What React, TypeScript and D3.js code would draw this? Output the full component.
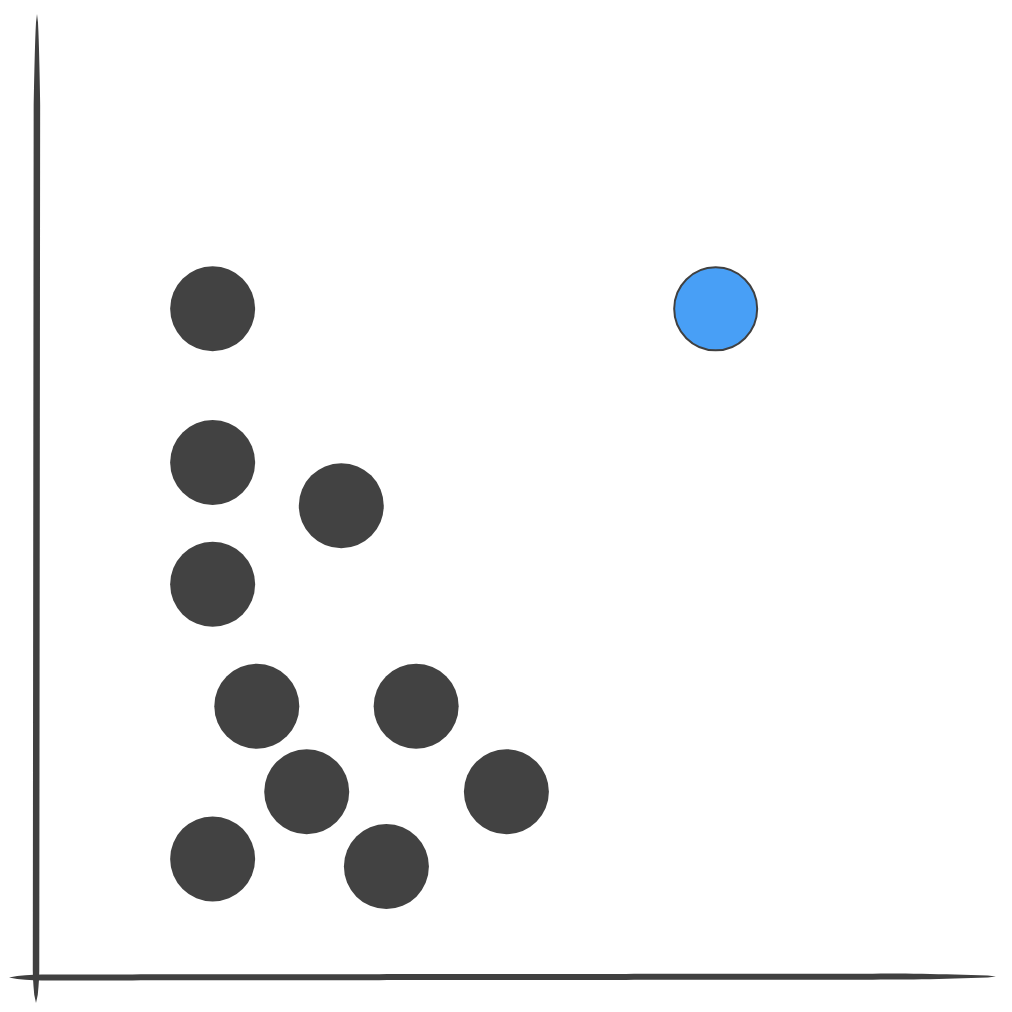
import * as d3 from "d3";

// point data (abstract units, origin at the axis corner)
const xs = [1.84, 7.08, 1.84, 3.18, 1.84, 2.3, 3.96, 2.82, 4.9, 1.84, 3.65];
const ys = [6.96, 6.96, 5.36, 4.91, 4.09, 2.82, 2.82, 1.93, 1.93, 1.23, 1.15];
const highlighted = [false, true, false, false, false, false, false, false, false, false, false];

const W = 1012;
const H = 1012;

// filled sketch stroke, pointed at both ends
function taper(x1: number, y1: number, x2: number, y2: number, w: number, t1: number, t2: number) {
  const len = Math.hypot(x2 - x1, y2 - y1);
  const ux = (x2 - x1) / len;
  const uy = (y2 - y1) / len;
  const nx = -uy;
  const ny = ux;
  const n = 120;
  const left: [number, number][] = [];
  const right: [number, number][] = [];
  for (let i = 0; i <= n; i++) {
    const s = (i / n) * len;
    let k = 1;
    if (s < t1) k = Math.sqrt(s / t1);
    if (len - s < t2) k = Math.min(k, Math.sqrt((len - s) / t2));
    const half = (w / 2) * k;
    const px = x1 + ux * s;
    const py = y1 + uy * s;
    left.push([px + nx * half, py + ny * half]);
    right.push([px - nx * half, py - ny * half]);
  }
  return d3.line()([...left, ...right.reverse()]) + "Z";
}

export default function App() {
  const x = d3.scaleLinear().domain([0, 10]).range([36, 996]);
  const y = d3.scaleLinear().domain([0, 10]).range([977, 17]);

  return (
    <svg
      width={W}
      height={H}
      style={{ position: "absolute", left: 0, top: 0, background: "#fff" }}
    >
      <path d={taper(37, 14, 36, 1003, 6.5, 90, 28)} fill="#404040" />
      <path d={taper(9, 977.5, 996, 976.5, 6, 30, 90)} fill="#404040" />
      {xs.map((v, i) => (
        <circle
          key={i}
          cx={x(v)}
          cy={y(ys[i])}
          r={highlighted[i] ? 41.5 : 42.5}
          fill={highlighted[i] ? "#489ff6" : "#424242"}
          stroke={highlighted[i] ? "#404040" : "none"}
          strokeWidth={2}
        />
      ))}
    </svg>
  );
}
